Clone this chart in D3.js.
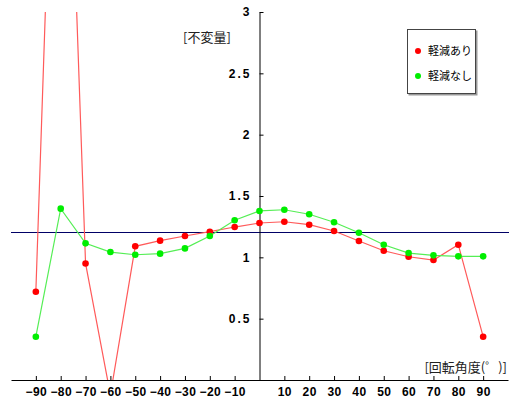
<!DOCTYPE html>
<html>
<head>
<meta charset="utf-8">
<script src="https://cdn.jsdelivr.net/npm/d3@7"></script>
<style>
  body { margin: 0; background: #fff; }
  svg { display: block; }
  .tick text { font-family: "Liberation Sans", sans-serif; font-weight: bold; font-size: 12px; fill: #000; }
  .x-axis .tick text { letter-spacing: 0.4px; }
  .y-axis .tick text { letter-spacing: 2px; }
</style>
</head>
<body>
<svg id="chart"></svg>
<script>
// 回転角度
const angles = [-90, -80, -70, -60, -50, -40, -30, -20, -10, 0, 10, 20, 30, 40, 50, 60, 70, 80, 90];
// 軽減あり
const withReduction = [0.72, 6.7, 0.95, -0.12, 1.09, 1.136, 1.174, 1.209, 1.247, 1.28, 1.29, 1.266, 1.215, 1.133, 1.054, 1.005, 0.978, 1.103, 0.353];
// 軽減なし
const withoutReduction = [0.353, 1.397, 1.114, 1.043, 1.021, 1.03, 1.073, 1.174, 1.302, 1.378, 1.388, 1.351, 1.286, 1.201, 1.103, 1.035, 1.016, 1.008, 1.008];
const xTicks = [-90, -80, -70, -60, -50, -40, -30, -20, -10, 10, 20, 30, 40, 50, 60, 70, 80, 90];
const yTicks = [0.5, 1, 1.5, 2, 2.5, 3];
const refValue = 1.21;

const width = 509;
const height = 403;

const series = [
  { name: "軽減あり", values: withReduction, dot: "#ff0000", line: "#ff5a5a" },
  { name: "軽減なし", values: withoutReduction, dot: "#00ee00", line: "#55ee55" },
];

const svg = d3.select("#chart").attr("width", width).attr("height", height);

const x = d3.scaleLinear().domain([-100, 100]).range([11, 508]);
const y = d3.scaleLinear().domain([0, 3]).range([380, 12]);

// 描画範囲でクリップ
svg.append("clipPath").attr("id", "plot")
  .append("rect")
  .attr("x", 11).attr("y", 12)
  .attr("width", 497).attr("height", 368);

// 基準線
svg.append("line")
  .attr("x1", 11).attr("x2", width)
  .attr("y1", Math.round(y(refValue)) + 0.5).attr("y2", Math.round(y(refValue)) + 0.5)
  .attr("stroke", "#000066").attr("stroke-width", 1);

// X軸
svg.append("g")
  .attr("class", "x-axis")
  .attr("transform", "translate(0," + y(0) + ")")
  .call(d3.axisBottom(x).tickValues(xTicks).tickSize(-4).tickSizeOuter(0).tickPadding(7).tickFormat(d3.format("d")));

// Y軸
svg.append("g")
  .attr("class", "y-axis")
  .attr("transform", "translate(" + x(0) + ",0)")
  .call(d3.axisLeft(y).tickValues(yTicks).tickSize(-4).tickSizeOuter(0).tickPadding(8).tickFormat((d) => String(d)));

svg.selectAll(".domain, .tick line").attr("stroke", "#000");

// 線と点
const plot = svg.append("g").attr("clip-path", "url(#plot)");
const line = d3.line().x((d, i) => x(angles[i])).y((d) => y(d));

series.forEach((s) => {
  plot.append("path")
    .datum(s.values)
    .attr("fill", "none")
    .attr("stroke", s.line)
    .attr("stroke-width", 1.2)
    .attr("d", line);
});

series.forEach((s) => {
  plot.selectAll(null)
    .data(s.values)
    .enter()
    .append("circle")
    .attr("cx", (d, i) => x(angles[i]))
    .attr("cy", (d) => y(d))
    .attr("r", 3.3)
    .attr("fill", s.dot);
});

// 軸ラベル
svg.append("text")
  .attr("x", 183).attr("y", 42)
  .style("font-family", "'Noto Sans CJK JP', sans-serif")
  .style("font-size", "13px")
  .attr("fill", "#222")
  .text("[不変量]");

svg.append("text")
  .attr("x", 507).attr("y", 372)
  .attr("text-anchor", "end")
  .style("font-family", "'Noto Sans CJK JP', sans-serif")
  .style("font-size", "13px")
  .attr("fill", "#222")
  .text("[回転角度(゜)]");

// 凡例
const legend = svg.append("g");
legend.append("rect")
  .attr("x", 408.5).attr("y", 30.5).attr("width", 69).attr("height", 65)
  .attr("fill", "#999");
legend.append("rect")
  .attr("x", 407.5).attr("y", 29.5).attr("width", 68).attr("height", 64)
  .attr("fill", "#fff").attr("stroke", "#444");

series.forEach((s, i) => {
  const ly = 51 + i * 25;
  legend.append("circle").attr("cx", 418).attr("cy", ly).attr("r", 3).attr("fill", s.dot);
  legend.append("text")
    .attr("x", 428).attr("y", ly + 4)
    .style("font-family", "'Noto Sans CJK JP', sans-serif")
    .style("font-size", "11px")
    .attr("fill", "#000")
    .text(s.name);
});
</script>
</body>
</html>
